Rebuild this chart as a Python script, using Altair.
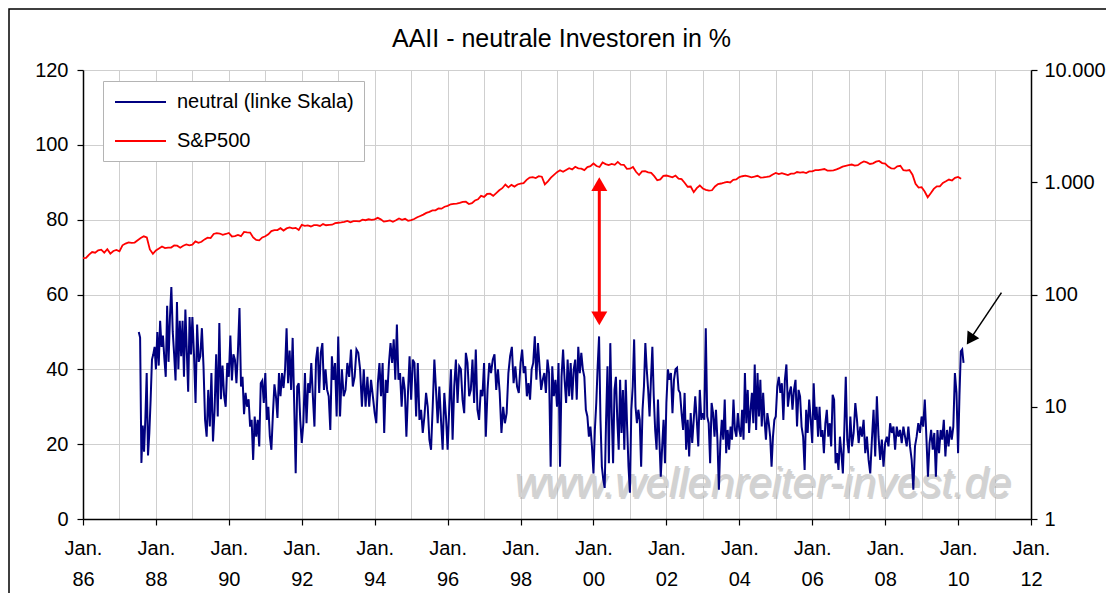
import altair as alt
import pandas as pd

TITLE = "AAII - neutrale Investoren in %"
SERIES = ["neutral (linke Skala)", "S&P500"]
COLORS = ["#000080", "#ff0000"]
WATERMARK = "www.wellenreiter-invest.de"

x_years = list(range(1986, 2013))
left_ticks = [0, 20, 40, 60, 80, 100, 120]
right_ticks = [1, 10, 100, 1000, 10000]

# AAII neutral readings (%), grouped by calendar year
neutral_1987 = [50, 48.5, 15, 25, 18, 27, 39, 17, 23, 32, 42.6, 44, 46]
neutral_1988 = [40, 50, 41, 53, 46, 49, 43, 38, 57, 42, 54, 62, 50, 44, 37, 58, 40, 53, 43.5, 53, 38, 56, 45, 34, 54, 44]
neutral_1989 = [54, 44, 31, 52, 42, 43.5, 51, 41, 26.5, 22, 34.5, 24.7, 39, 20.7, 29, 44, 27.4, 52.4, 32, 41, 33, 30, 41.7]
neutral_1990 = [38, 49, 37, 44, 42.6, 36.3, 45, 56.4, 35.4, 38, 28, 33.7, 30, 32, 24.7, 26.5, 15.8, 27.4, 22, 26.5, 19.4, 36.3, 37, 31]
neutral_1991 = [39, 26.5, 30, 22, 18.5, 28, 36, 32.8, 27, 39, 32.8, 39, 35, 40, 51, 36.3, 45, 34.5, 48.4, 31, 12.2, 35.4, 36.3, 26.5]
neutral_1992 = [20.3, 25.6, 39, 25.6, 36.3, 33.7, 41.7, 32.8, 24.7, 42.6, 46, 33.7, 44.4, 47, 34.5, 40, 34.5, 32.8, 23.8, 43.5, 37.2, 41.7, 27.4]
neutral_1993 = [48.8, 27.4, 40, 32.8, 34.5, 41.7, 38, 45.3, 35.4, 38, 45.3, 44.4, 40, 30, 40, 30, 38, 30, 37.2, 32.8]
neutral_1994 = [28.3, 25.6, 36.3, 41.7, 32.8, 41.7, 23, 37.2, 33.7, 41.7, 47, 41.7, 48, 37.2, 52, 37.2, 39, 30, 38, 34.5, 22, 33.7, 43.5]
neutral_1995 = [31.9, 42.6, 41.7, 27.4, 41.7, 26.5, 29.2, 23, 27.4, 33.7, 30, 21.2, 18.5, 30, 42.6, 34.5, 25.6, 35.4, 26.5, 18.5, 33.7, 27.4]
neutral_1996 = [18.5, 30, 40, 21.2, 35.4, 42.6, 31, 40.8, 40, 31.9, 28.3, 44.4, 41.7, 32.8, 34.5, 42.6, 31, 45.3, 29.2, 26.5, 34.5, 32.8]
neutral_1997 = [41.7, 22, 34.5, 41.7, 39, 42.6, 44, 34.5, 40, 33.7, 23, 30, 25.6, 28.3, 39, 43.5, 46, 36.3, 40.8, 35.4, 33.7]
neutral_1998 = [41.7, 45.3, 39, 40.8, 32.8, 36.3, 31.9, 40, 41.7, 48.8, 37.2, 47, 40.8, 34.5, 37.2, 39, 33.7, 42.6, 39, 14, 40.8, 32.8, 37.2]
neutral_1999 = [30, 41.7, 14, 38, 45.3, 37.2, 31, 42.6, 32.8, 41.7, 31.9, 40, 42.6, 31.9, 46, 39, 44.4, 40, 38, 29.2, 27.4, 22, 24.7, 19.4]
neutral_2000 = [12.2, 23.8, 31, 40.8, 48.8, 26.5, 14, 10.5, 8.3, 26.5, 40.8, 14.9, 47, 28.3, 14.9, 34.5, 38, 26.5, 18.5, 37.2, 23, 34.5, 18.5, 37.2, 24.7, 14]
neutral_2001 = [7, 29.2, 35.4, 48, 30, 25.6, 29.2, 26.5, 14, 29.2, 35.4, 47, 40, 34.5, 27.4, 37.2, 46, 32.8, 23.8, 18.5, 31.9, 21.2, 11.3, 19.4, 26.5, 14.9]
neutral_2002 = [31, 40, 37.2, 39, 28.3, 37.2, 40, 40.4, 34.5, 33.7, 28.3, 23.8, 33.7, 18.5, 26.5, 16.7, 28.3, 20.3, 26.5, 32.8, 26.5, 19.4, 34.5, 26.5]
neutral_2003 = [28.3, 26.5, 51, 27.4, 25.6, 14.9, 31, 28.3, 22, 29.2, 21.2, 7.8, 20.3, 26.5, 21.2, 31.9, 17.6, 23.8, 18.5, 24.7, 21.2, 31.9, 23.8, 22, 28.3]
neutral_2004 = [23.8, 22, 29.2, 21.2, 39, 25.6, 34.5, 23, 29.2, 33.7, 25.6, 41.3, 23.8, 39, 27.4, 37.2, 24.7, 33.7, 26.5, 21.2, 28.3, 25.6, 22, 14, 22, 26.5]
neutral_2005 = [27.4, 35.4, 38, 33.7, 36.3, 26.5, 37.2, 41.3, 30, 33.7, 35.4, 29.2, 34.5, 37.2, 24.7, 34.5, 32.8, 24.7, 22, 13.1, 29.2, 23, 31.9, 26.5]
neutral_2006 = [20.3, 36.3, 26.5, 30, 22, 30, 22, 23.8, 17.6, 25.6, 29.2, 22, 25.6, 19.4, 33.2, 31.9, 14.9, 17.6, 13.1, 22, 17.6, 12.2, 23.8, 38, 21.2]
neutral_2007 = [17.6, 27.4, 19.4, 23, 31, 26.5, 20.3, 24.7, 22, 26.5, 17.6, 22, 15.8, 12.2, 21.2, 29.2, 16.7, 32.8, 22, 15.8, 21.2, 14]
neutral_2008 = [20.3, 22, 19.4, 25.6, 23, 24.7, 18.5, 24.7, 22, 23.8, 20.3, 24.7, 22, 19.4, 24.7, 19.4, 15.8, 7.8, 19.4, 22, 25.6, 23]
neutral_2009 = [27.4, 24.7, 31.9, 22, 11.3, 20.3, 23.8, 18.5, 23, 11.3, 23.8, 17.6, 23.8, 21.2, 26.5, 16.7, 23.8, 19.4, 24.7, 21.2, 24.7, 39, 33.7]
neutral_2010 = [17.6, 32.8, 44.8, 45.3, 41.7]

neutral_by_year = {
    1987: neutral_1987, 1988: neutral_1988, 1989: neutral_1989, 1990: neutral_1990,
    1991: neutral_1991, 1992: neutral_1992, 1993: neutral_1993, 1994: neutral_1994,
    1995: neutral_1995, 1996: neutral_1996, 1997: neutral_1997, 1998: neutral_1998,
    1999: neutral_1999, 2000: neutral_2000, 2001: neutral_2001, 2002: neutral_2002,
    2003: neutral_2003, 2004: neutral_2004, 2005: neutral_2005, 2006: neutral_2006,
    2007: neutral_2007, 2008: neutral_2008, 2009: neutral_2009, 2010: neutral_2010,
}
survey_start = 1987.53   # first survey reading (late July 1987)
survey_end = 2010.15     # last reading shown (Feb 2010)

# S&P 500 month-end closes, Dec 1985 .. Jan 2010
sp500_1980s = [211.3,
    211.8, 226.9, 238.9, 235.5, 247.4, 250.8, 236.1, 252.9, 231.3, 244.0, 249.2, 242.2,
    274.1, 284.2, 291.7, 288.4, 290.1, 304.0, 318.7, 329.8, 321.8, 251.8, 230.3, 247.1,
    257.1, 267.8, 258.9, 261.3, 262.2, 273.5, 272.0, 261.5, 271.9, 279.0, 273.7, 277.7,
    297.5, 288.9, 294.9, 309.6, 320.5, 318.0, 346.1, 351.5, 349.2, 340.4, 346.0, 353.4]
sp500_1990s = [
    329.1, 331.9, 339.9, 330.8, 361.2, 358.0, 356.2, 322.6, 306.1, 304.0, 322.2, 330.2,
    343.9, 367.1, 375.2, 375.3, 389.8, 371.2, 387.8, 395.4, 387.9, 392.5, 375.2, 417.1,
    408.8, 412.7, 403.7, 415.0, 415.4, 408.1, 424.2, 414.0, 417.8, 418.7, 431.4, 435.7,
    438.8, 443.4, 451.7, 440.2, 450.2, 450.5, 448.1, 463.6, 458.9, 467.8, 461.8, 466.5,
    481.6, 467.1, 445.8, 450.9, 456.5, 444.3, 458.3, 475.5, 462.7, 472.4, 453.7, 459.3,
    470.4, 487.4, 500.7, 514.7, 533.4, 544.8, 562.1, 561.9, 584.4, 581.5, 605.4, 615.9,
    636.0, 640.4, 645.5, 654.2, 669.1, 670.6, 640.0, 652.0, 687.3, 705.3, 757.0, 740.7,
    786.2, 790.8, 757.1, 801.3, 848.3, 885.1, 954.3, 899.5, 947.3, 914.6, 955.4, 970.4,
    980.3, 1049.3, 1101.8, 1111.8, 1090.8, 1133.8, 1120.7, 957.3, 1017.0, 1098.7, 1163.6, 1229.2,
    1279.6, 1238.3, 1286.4, 1335.2, 1301.8, 1372.7, 1328.7, 1320.4, 1282.7, 1362.9, 1388.9, 1469.3]
sp500_2000s = [
    1394.5, 1366.4, 1498.6, 1452.4, 1420.6, 1454.6, 1430.8, 1517.7, 1436.5, 1429.4, 1315.2, 1320.3,
    1366.0, 1239.9, 1160.3, 1249.5, 1255.8, 1224.4, 1211.2, 1133.6, 1040.9, 1059.8, 1139.5, 1148.1,
    1130.2, 1106.7, 1147.4, 1076.9, 1067.1, 989.8, 911.6, 916.1, 815.3, 885.8, 936.3, 879.8,
    855.7, 841.2, 848.2, 916.9, 963.6, 974.5, 990.3, 1008.0, 996.0, 1050.7, 1058.2, 1111.9,
    1131.1, 1144.9, 1126.2, 1107.3, 1120.7, 1140.8, 1101.7, 1104.2, 1114.6, 1130.2, 1173.8, 1211.9,
    1181.3, 1203.6, 1180.6, 1156.9, 1191.5, 1191.3, 1234.2, 1220.3, 1228.8, 1207.0, 1249.5, 1248.3,
    1280.1, 1280.7, 1294.8, 1310.6, 1270.1, 1270.2, 1276.7, 1303.8, 1335.9, 1377.9, 1400.6, 1418.3,
    1438.2, 1406.8, 1420.9, 1482.4, 1530.6, 1503.4, 1455.3, 1474.0, 1526.8, 1549.4, 1481.1, 1468.4,
    1378.6, 1330.6, 1322.7, 1385.6, 1400.4, 1280.0, 1267.4, 1282.8, 1166.4, 968.8, 896.2, 903.3,
    825.9, 735.1, 797.9, 872.8, 919.1, 919.3, 987.5, 1020.6, 1057.1, 1036.2, 1095.6, 1115.1,
    1073.9]
sp500_first_month = 1986.0  # Dec 1985 close sits at the start of 1986

# annotation arrows (in left-scale units / decimal years)
red_arrow_year = 2000.16
red_arrow_top = 89.5
red_arrow_bottom = 53.6
black_arrow_start = (2011.19, 60.5)
black_arrow_head = (2010.33, 48.0)

# ---------- build tables ----------
rows = []
years = sorted(neutral_by_year)
for yr in years:
    vals = neutral_by_year[yr]
    n = len(vals)
    if yr == years[0]:
        start, step = survey_start, (yr + 1 - survey_start) / n
    elif yr == years[-1]:
        start, step = float(yr), (survey_end - yr) / (n - 1)
    else:
        start, step = float(yr), 1.0 / n
    for i, v in enumerate(vals):
        rows.append({"t": start + i * step, "v": v, "series": SERIES[0]})
neutral_df = pd.DataFrame(rows)

sp_vals = sp500_1980s + sp500_1990s + sp500_2000s
sp_df = pd.DataFrame({
    "t": [sp500_first_month + i / 12 for i in range(len(sp_vals))],
    "v": sp_vals,
    "series": SERIES[1],
})

red_rule_df = pd.DataFrame({"t": [red_arrow_year], "v": [red_arrow_top], "v2": [red_arrow_bottom]})
red_head_df = pd.DataFrame({"t": [red_arrow_year, red_arrow_year],
                            "v": [red_arrow_top, red_arrow_bottom],
                            "shape": ["triangle-up", "triangle-down"]})
black_rule_df = pd.DataFrame({"t": [black_arrow_start[0]], "v": [black_arrow_start[1]],
                              "t2": [black_arrow_head[0]], "v2": [black_arrow_head[1]]})
black_head_df = pd.DataFrame({"t": [black_arrow_head[0]], "v": [black_arrow_head[1]]})

FONT = "Liberation Sans"

x_axis = alt.Axis(
    values=x_years, title=None, grid=True, gridColor="#cfcfcf", gridWidth=1,
    domainColor="black", domainWidth=1.5, tickColor="black", tickWidth=1.2, tickSize=6,
    tickOpacity={"condition": {"test": "datum.value % 2 == 0", "value": 1}, "value": 0},
    labelExpr="datum.value % 2 == 0 ? ['Jan.', slice(toString(100 + datum.value % 100), 1)] : ''",
    labelFontSize=20, labelLineHeight=31, labelPadding=13, labelColor="black", labelFont=FONT,
    labelOverlap=False, labelFlush=False, labelBound=False,
)
left_axis = alt.Axis(
    values=left_ticks, title=None, grid=True, gridColor="#cfcfcf", gridWidth=1,
    domainColor="black", domainWidth=1.5, tickColor="black", tickWidth=1.2, tickSize=6,
    labelFontSize=20, labelPadding=9, labelColor="black", labelFont=FONT,
)
right_axis = alt.Axis(
    orient="right", values=right_ticks, title=None, grid=False,
    domainColor="black", domainWidth=1.5, tickColor="black", tickWidth=1.2, tickSize=6,
    labelExpr="replace(format(datum.value, ','), ',', '.')",
    labelFontSize=20, labelPadding=7, labelColor="black", labelFont=FONT,
)

x_scale = alt.Scale(domain=[1986, 2012], nice=False, zero=False)
y_left_scale = alt.Scale(domain=[0, 120], nice=False, zero=False)
color_scale = alt.Scale(domain=SERIES, range=COLORS)

legend = alt.Legend(
    title=None, orient="none", legendX=20, legendY=11, direction="vertical",
    fillColor="white", strokeColor="#b4b4b4", padding=10,
    symbolType="M-2.55,0H2.55", symbolSize=400, symbolStrokeWidth=2, symbolOffset=16.5,
    labelFontSize=20, labelFont=FONT, labelColor="black", labelOffset=25.5,
    rowPadding=18, labelLimit=400,
)

X = alt.X("t:Q", scale=x_scale, axis=x_axis)
YL = alt.Y("v:Q", scale=y_left_scale, axis=left_axis)

text_df = pd.DataFrame({"label": [WATERMARK]})
watermark_shadow = alt.Chart(text_df).mark_text(
    fontSize=42, fontStyle="italic", color="#a8a8a8", opacity=0.5, align="center",
    baseline="alphabetic", font=FONT,
).encode(text="label:N", x=alt.value(681.5), y=alt.value(428.5))
watermark = alt.Chart(text_df).mark_text(
    fontSize=42, fontStyle="italic", color="#d2d2d2", align="center",
    baseline="alphabetic", font=FONT,
).encode(text="label:N", x=alt.value(680), y=alt.value(427))

title_text = alt.Chart(pd.DataFrame({"label": [TITLE]})).mark_text(
    fontSize=25, color="black", align="center", baseline="alphabetic", font=FONT, clip=False,
).encode(text="label:N", x=alt.value(478.5), y=alt.value(-23))

blue = alt.Chart(neutral_df).mark_line(strokeWidth=2).encode(
    x=X, y=YL, color=alt.Color("series:N", scale=color_scale, legend=legend),
)

red_rule = alt.Chart(red_rule_df).mark_rule(color="#ff0000", strokeWidth=3).encode(
    x=X, y=YL, y2="v2:Q")
red_heads = alt.Chart(red_head_df).mark_point(filled=True, color="#ff0000", size=256, opacity=1).encode(
    x=X, y=YL, shape=alt.Shape("shape:N", scale=None))
black_rule = alt.Chart(black_rule_df).mark_rule(color="black", strokeWidth=1.5).encode(
    x=X, y=YL, x2="t2:Q", y2="v2:Q")
black_head = alt.Chart(black_head_df).mark_point(
    filled=True, color="black", size=196, shape="triangle-up", angle=213, opacity=1
).encode(x=X, y=YL)

frame = alt.Chart(pd.DataFrame({"k": [0]})).mark_rect(
    fillOpacity=0, stroke="black", strokeWidth=1.5, clip=False
).encode(x=alt.value(-74), x2=alt.value(1200), y=alt.value(-61), y2=alt.value(800))

left_layer = alt.layer(watermark_shadow, watermark, blue, red_rule, red_heads,
                       black_rule, black_head, title_text, frame)

red = alt.Chart(sp_df).mark_line(strokeWidth=1.8).encode(
    x=X,
    y=alt.Y("v:Q", scale=alt.Scale(type="log", domain=[1, 10000], nice=False), axis=right_axis),
    color=alt.Color("series:N", scale=color_scale, legend=legend),
)

chart = alt.layer(left_layer, red).resolve_scale(y="independent").properties(
    width=948, height=449,
    autosize=alt.AutoSizeParams(type="none"),
    padding={"left": 75, "top": 62, "right": 75, "bottom": 74},
).configure_view(stroke="#555555", strokeWidth=1).configure(font=FONT)

chart.save("out.html", embed_options={"renderer": "svg", "actions": False})
